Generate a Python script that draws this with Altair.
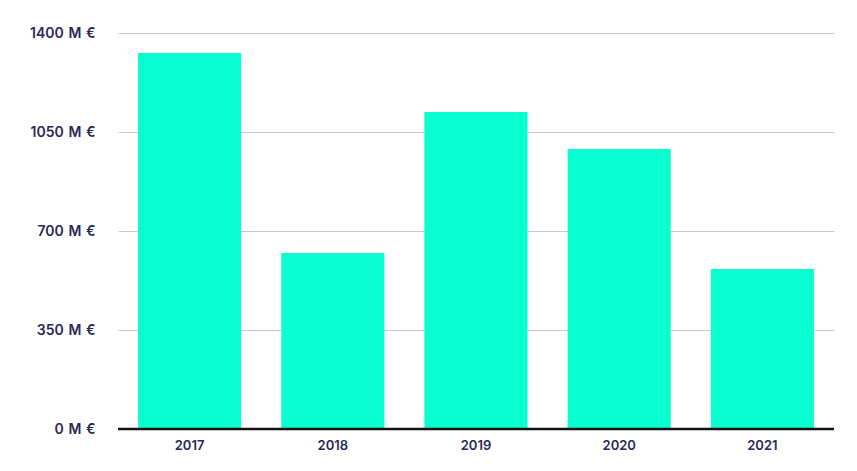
import altair as alt
import pandas as pd

years = ["2017", "2018", "2019", "2020", "2021"]
values = [1329, 622, 1121, 990, 566]
y_ticks = [0, 350, 700, 1050, 1400]

df = pd.DataFrame({"year": years, "value": values})

label_color = "#2b2857"

bars = alt.Chart(df).mark_bar(color="#0affd0").encode(
    x=alt.X("year:N", sort=years, title=None,
            scale=alt.Scale(paddingInner=0.28, paddingOuter=0.14),
            axis=alt.Axis(labelAngle=0, domain=False, ticks=False, labelPadding=10,
                          labelFont="Inter", labelFontSize=13, labelFontWeight=600,
                          labelColor=label_color)),
    y=alt.Y("value:Q", title=None,
            scale=alt.Scale(domain=[0, 1400], nice=False),
            axis=alt.Axis(values=y_ticks, labelExpr="datum.value + ' \u200aM \u200a€'",
                          domain=False, ticks=False, labelPadding=23,
                          grid=True, gridColor="#c9c7d9", gridWidth=1.2,
                          labelFont="Inter", labelFontSize=14, labelFontWeight=600,
                          labelColor=label_color)),
)

zero = alt.Chart(pd.DataFrame({"v": [0]})).mark_rule(color="#111111", strokeWidth=2.5).encode(
    y="v:Q"
)

chart = (bars + zero).properties(
    width=716, height=396,
    autosize=alt.AutoSizeParams(type="none"),
    padding={"left": 110, "top": 25, "right": 15, "bottom": 30},
).configure_view(stroke=None)

chart.save("out.html", embed_options={"renderer": "svg", "actions": False})
